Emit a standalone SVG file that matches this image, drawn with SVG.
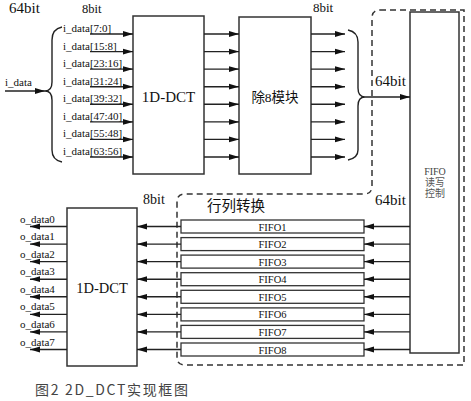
<svg xmlns="http://www.w3.org/2000/svg" width="471" height="401" viewBox="0 0 471 401">
<defs>
<marker id="ah" viewBox="0 0 10 7" refX="10" refY="3.5" markerWidth="10" markerHeight="7" markerUnits="userSpaceOnUse" orient="auto">
<path d="M0,0.6 L10,3.5 L0,6.4 Z" fill="#111"/>
</marker>
<style>
.box{fill:#fff;stroke:#333;stroke-width:1.5}
.fifo{fill:#fff;stroke:#333;stroke-width:1.3}
.ln{stroke:#222;stroke-width:1.4;fill:none}
.arr{stroke:#222;stroke-width:1.4;fill:none;marker-end:url(#ah)}
.dash{fill:none;stroke:#333;stroke-width:1.5;stroke-dasharray:6 4}
.t{font-family:"Liberation Serif","Times New Roman",serif;fill:#111}
.c{font-family:"Liberation Serif","Noto Sans CJK SC",serif;fill:#111}
.lab{font-size:11px}
.ft{font-size:10.5px;text-anchor:middle}
</style>
</defs>
<g id="region-dashed">
<path class="dash" d="M380,10 H464 V365 H185 Q177,365 177,357 V202 Q177,194 185,194 H364 Q372,194 372,186 V18 Q372,10 380,10 Z"/>
</g>
<g id="labels">
<text class="t" x="9" y="13" font-size="15">64bit</text>
<text class="t" x="82" y="13" font-size="12.5">8bit</text>
<text class="t" x="313" y="12" font-size="13">8bit</text>
<text class="t" x="375" y="86" font-size="15">64bit</text>
<text class="t" x="143" y="204" font-size="14">8bit</text>
<text class="t" x="375" y="205" font-size="15">64bit</text>
<text class="t lab" x="5" y="86">i_data</text>
<text class="c" x="207" y="211" font-size="14.5">行列转换</text>
</g>
<g id="dct1">
<rect class="box" x="133" y="16" width="71" height="158"/>
<text class="t" x="168.5" y="102" font-size="15" text-anchor="middle">1D-DCT</text>
</g>
<g id="div8">
<rect class="box" x="239" y="17" width="72" height="157"/>
<text class="c" x="275" y="102" font-size="13.5" text-anchor="middle">除8模块</text>
</g>
<g id="fifo-ctrl">
<rect class="box" x="410" y="12" width="49" height="341"/>
<text class="t" x="435" y="175" font-size="10" text-anchor="middle" style="fill:#444">FIFO</text>
<text class="c" x="435" y="186" font-size="10" text-anchor="middle" style="fill:#555">读写</text>
<text class="c" x="435" y="197" font-size="10" text-anchor="middle" style="fill:#555">控制</text>
</g>
<g id="dct2">
<rect class="box" x="67" y="208" width="70" height="158"/>
<text class="t" x="102" y="293" font-size="14.5" text-anchor="middle">1D-DCT</text>
</g>
<g id="fifos">
<g id="fifo1"><rect class="fifo" x="181" y="220" width="183" height="13"/><text class="t ft" x="272.5" y="230.5">FIFO1</text></g>
<g id="fifo2"><rect class="fifo" x="181" y="237.6" width="183" height="13"/><text class="t ft" x="272.5" y="248.1">FIFO2</text></g>
<g id="fifo3"><rect class="fifo" x="181" y="255.1" width="183" height="13"/><text class="t ft" x="272.5" y="265.6">FIFO3</text></g>
<g id="fifo4"><rect class="fifo" x="181" y="272.7" width="183" height="13"/><text class="t ft" x="272.5" y="283.2">FIFO4</text></g>
<g id="fifo5"><rect class="fifo" x="181" y="290.3" width="183" height="13"/><text class="t ft" x="272.5" y="300.8">FIFO5</text></g>
<g id="fifo6"><rect class="fifo" x="181" y="307.9" width="183" height="13"/><text class="t ft" x="272.5" y="318.4">FIFO6</text></g>
<g id="fifo7"><rect class="fifo" x="181" y="325.4" width="183" height="13"/><text class="t ft" x="272.5" y="335.9">FIFO7</text></g>
<g id="fifo8"><rect class="fifo" x="181" y="343" width="183" height="13"/><text class="t ft" x="272.5" y="353.5">FIFO8</text></g>
</g>
<g id="input-labels">
<text class="t lab" x="63" y="32">i_data[7:0]</text>
<text class="t lab" x="63" y="49.6">i_data[15:8]</text>
<text class="t lab" x="63" y="67.1">i_data[23:16]</text>
<text class="t lab" x="63" y="84.7">i_data[31:24]</text>
<text class="t lab" x="63" y="102.3">i_data[39:32]</text>
<text class="t lab" x="63" y="119.9">i_data[47:40]</text>
<text class="t lab" x="63" y="137.4">i_data[55:48]</text>
<text class="t lab" x="63" y="155">i_data[63:56]</text>
</g>
<g id="output-labels">
<text class="t lab" x="20" y="222.5">o_data0</text>
<text class="t lab" x="20" y="240">o_data1</text>
<text class="t lab" x="20" y="257.6">o_data2</text>
<text class="t lab" x="20" y="275.2">o_data3</text>
<text class="t lab" x="20" y="292.8">o_data4</text>
<text class="t lab" x="20" y="310.4">o_data5</text>
<text class="t lab" x="20" y="327.9">o_data6</text>
<text class="t lab" x="20" y="345.5">o_data7</text>
</g>
<g id="connectors">
<path class="ln" d="M62,27 Q52,29 52,40 L52,82 Q52,91 45,91 Q52,91 52,100 L52,150 Q52,160 62,162"/>
<path class="ln" d="M348,30 Q358,32 358,42 V88 Q358,97 365,97 Q358,97 358,106 V150 Q358,158 348,160"/>
<line class="arr" x1="5" y1="91" x2="45" y2="91"/>
<line class="arr" x1="365" y1="97" x2="410" y2="97"/>
<g id="in-arrows">
<line class="arr" x1="90" y1="34" x2="133" y2="34"/>
<line class="arr" x1="90" y1="51.6" x2="133" y2="51.6"/>
<line class="arr" x1="90" y1="69.1" x2="133" y2="69.1"/>
<line class="arr" x1="90" y1="86.7" x2="133" y2="86.7"/>
<line class="arr" x1="90" y1="104.3" x2="133" y2="104.3"/>
<line class="arr" x1="90" y1="121.9" x2="133" y2="121.9"/>
<line class="arr" x1="90" y1="139.4" x2="133" y2="139.4"/>
<line class="arr" x1="90" y1="157" x2="133" y2="157"/>
</g>
<g id="mid-arrows">
<line class="arr" x1="204" y1="34" x2="239" y2="34"/>
<line class="arr" x1="204" y1="51.6" x2="239" y2="51.6"/>
<line class="arr" x1="204" y1="69.1" x2="239" y2="69.1"/>
<line class="arr" x1="204" y1="86.7" x2="239" y2="86.7"/>
<line class="arr" x1="204" y1="104.3" x2="239" y2="104.3"/>
<line class="arr" x1="204" y1="121.9" x2="239" y2="121.9"/>
<line class="arr" x1="204" y1="139.4" x2="239" y2="139.4"/>
<line class="arr" x1="204" y1="157" x2="239" y2="157"/>
</g>
<g id="div-arrows">
<line class="arr" x1="311" y1="34" x2="345" y2="34"/>
<line class="arr" x1="311" y1="51.6" x2="345" y2="51.6"/>
<line class="arr" x1="311" y1="69.1" x2="345" y2="69.1"/>
<line class="arr" x1="311" y1="86.7" x2="345" y2="86.7"/>
<line class="arr" x1="311" y1="104.3" x2="345" y2="104.3"/>
<line class="arr" x1="311" y1="121.9" x2="345" y2="121.9"/>
<line class="arr" x1="311" y1="139.4" x2="345" y2="139.4"/>
<line class="arr" x1="311" y1="157" x2="345" y2="157"/>
</g>
<g id="ctrl-arrows">
<line class="arr" x1="410" y1="226.5" x2="364" y2="226.5"/>
<line class="arr" x1="410" y1="244.1" x2="364" y2="244.1"/>
<line class="arr" x1="410" y1="261.6" x2="364" y2="261.6"/>
<line class="arr" x1="410" y1="279.2" x2="364" y2="279.2"/>
<line class="arr" x1="410" y1="296.8" x2="364" y2="296.8"/>
<line class="arr" x1="410" y1="314.4" x2="364" y2="314.4"/>
<line class="arr" x1="410" y1="331.9" x2="364" y2="331.9"/>
<line class="arr" x1="410" y1="349.5" x2="364" y2="349.5"/>
</g>
<g id="fifo-arrows">
<line class="arr" x1="181" y1="226.5" x2="137" y2="226.5"/>
<line class="arr" x1="181" y1="244.1" x2="137" y2="244.1"/>
<line class="arr" x1="181" y1="261.6" x2="137" y2="261.6"/>
<line class="arr" x1="181" y1="279.2" x2="137" y2="279.2"/>
<line class="arr" x1="181" y1="296.8" x2="137" y2="296.8"/>
<line class="arr" x1="181" y1="314.4" x2="137" y2="314.4"/>
<line class="arr" x1="181" y1="331.9" x2="137" y2="331.9"/>
<line class="arr" x1="181" y1="349.5" x2="137" y2="349.5"/>
</g>
<g id="out-arrows">
<line class="arr" x1="67" y1="226.5" x2="30" y2="226.5"/>
<line class="arr" x1="67" y1="244.1" x2="30" y2="244.1"/>
<line class="arr" x1="67" y1="261.6" x2="30" y2="261.6"/>
<line class="arr" x1="67" y1="279.2" x2="30" y2="279.2"/>
<line class="arr" x1="67" y1="296.8" x2="30" y2="296.8"/>
<line class="arr" x1="67" y1="314.4" x2="30" y2="314.4"/>
<line class="arr" x1="67" y1="331.9" x2="30" y2="331.9"/>
<line class="arr" x1="67" y1="349.5" x2="30" y2="349.5"/>
</g>
</g>
<text x="35" y="395" font-family="'Noto Sans CJK SC',sans-serif" font-size="14" fill="#444" textLength="153" lengthAdjust="spacing" xml:space="preserve">图2 2D_DCT实现框图</text>
</svg>
